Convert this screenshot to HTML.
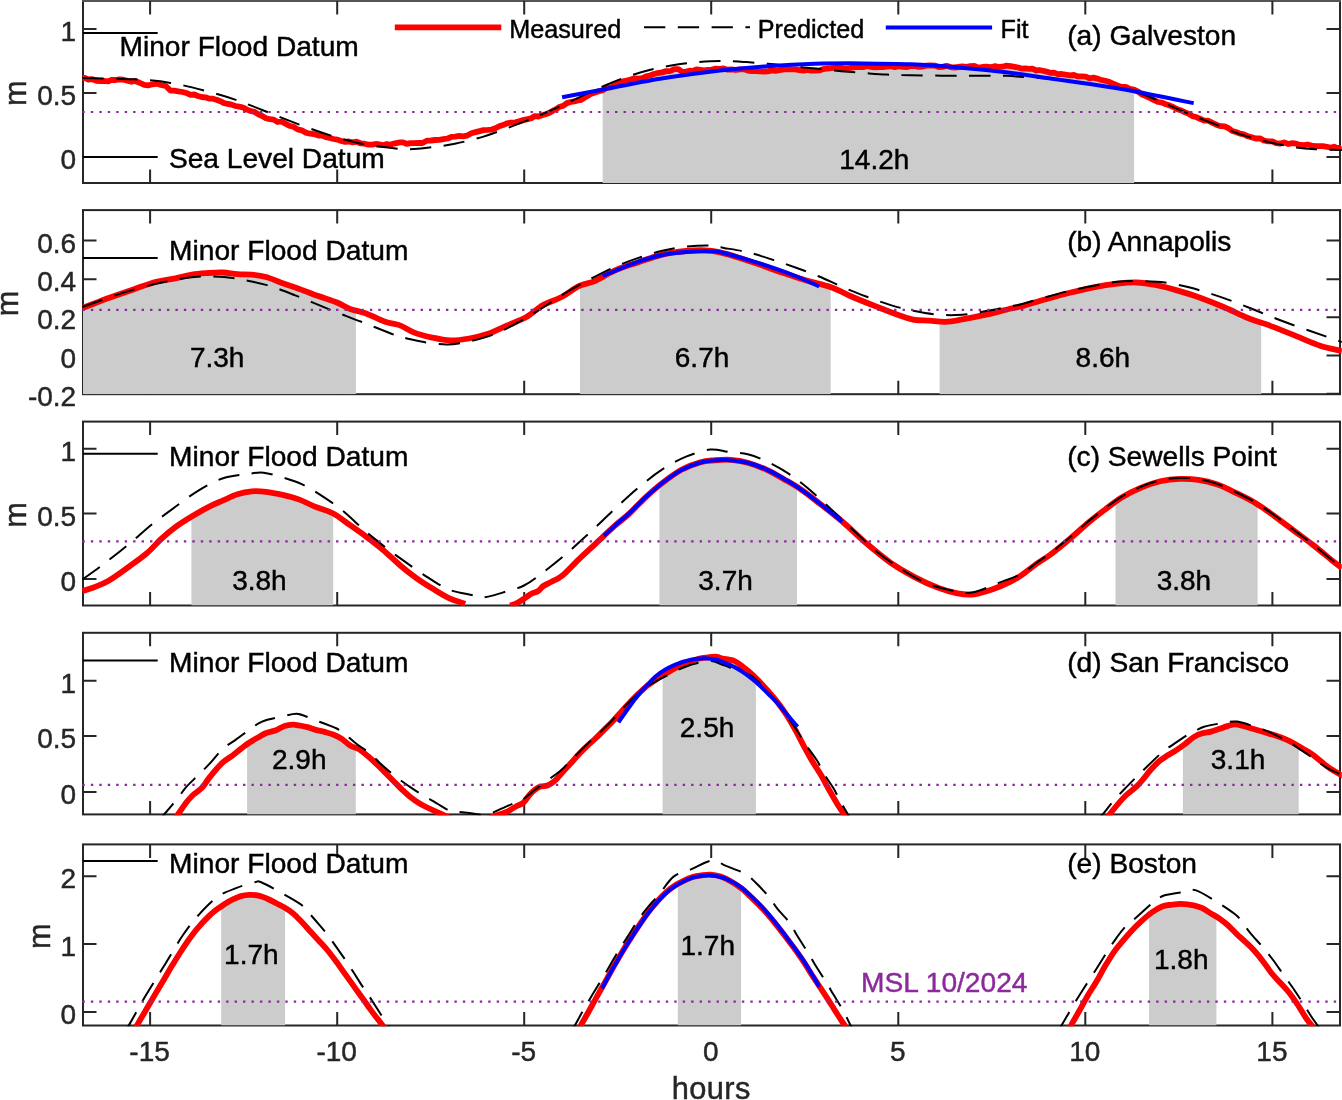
<!DOCTYPE html>
<html lang="en"><head><meta charset="utf-8"><title>Tide panels</title>
<style>html,body{margin:0;padding:0;background:#fff}svg{display:block}</style></head>
<body>
<svg width="1342" height="1100" viewBox="0 0 1342 1100" font-family="'Liberation Sans', sans-serif" stroke-width="0.45">
<rect width="1342" height="1100" fill="#fff"/>
<clipPath id="ca"><rect x="83" y="1" width="1260" height="181.9"/></clipPath>
<clipPath id="cal"><rect x="81.8" y="0.5" width="1260" height="183.2"/></clipPath>
<g stroke="#262626" stroke-width="2" fill="none" stroke-linecap="butt">
<path d="M83 0V182.9H1340V0"/>
<path d="M82 1H1341" stroke="#555"/>
<path d="M150.1 182.9v-13.5M150.1 1v13.5M337.2 182.9v-13.5M337.2 1v13.5M524.2 182.9v-13.5M524.2 1v13.5M711.2 182.9v-13.5M711.2 1v13.5M898.3 182.9v-13.5M898.3 1v13.5M1085.3 182.9v-13.5M1085.3 1v13.5M1272.4 182.9v-13.5M1272.4 1v13.5M83 28.9h13.5M1340 28.9h-13.5M83 93.1h13.5M1340 93.1h-13.5M83 156.9h13.5M1340 156.9h-13.5"/>
</g>
<g clip-path="url(#ca)">
<path d="M602.7 182.9L602.7 90.5L608.5 87.8L615 84.7L621.4 82.2L627.7 80.5L634.1 79.1L640.5 77.6L647 76.2L653.4 74.8L659.7 73.3L666.3 71.5L672.4 70L679.2 70.2L686.1 71.5L691.8 71L698.1 70L704.3 69.6L710.7 69.3L717.6 69.1L724.1 69.1L730.5 69.3L737.2 69.5L743.8 69.8L750.3 70.2L756.8 70.6L763.4 70.9L769.9 71L776.4 70.7L782.8 70.2L789.3 69.9L795.8 69.7L802.4 69.8L808.9 69.9L815.4 69.8L821.9 69.5L828.4 68.9L834.9 68.4L841.4 68L847.9 67.5L854.3 67.1L860.8 66.8L867.3 66.6L873.9 66.6L880.4 66.7L886.9 66.7L893.4 66.6L899.9 66.4L906.4 66.3L912.9 66.2L919.4 66.1L925.9 66.1L932.4 66.2L938.9 66.3L945.4 66.4L951.9 66.6L958.4 66.7L964.9 66.7L971.4 66.8L978 66.7L984.5 66.7L991.3 66.4L998 66.2L1004.1 66.1L1010.6 66.6L1016.5 67.6L1022 68.5L1027.9 69L1033.9 69.5L1040.1 70.4L1046.5 71.5L1053.2 72.6L1059.9 73.7L1066.5 74.8L1073.2 75.8L1079.6 76.7L1086.2 77.5L1092.6 78.1L1098.7 78.9L1105 80.6L1111.3 83L1117.4 85.3L1123.6 87L1129.8 88.7L1134.1 90.1L1134.1 182.9Z" fill="#cccccc"/>
</g>
<g clip-path="url(#cal)" fill="none" stroke-linejoin="round">
<path d="M82.4 77.8L84.8 77.9L88.3 79.5L92.3 79.2L96.6 80.8L100.5 81.1L103.8 80.9L108.2 81.4L111.6 79.8L115.8 80L119.3 79.4L123.3 79.7L127.5 80.7L131.5 81.8L134.8 81L139.8 82.8L144.4 84.8L148.2 85.4L152.7 84.3L157.2 83.7L161 85L165.8 86L170.6 90.7L174.2 90.7L178.2 91.3L182.6 92L187.3 93.3L190.6 94.9L194.2 94.5L197.9 96L201.6 97L205.3 97.3L208.8 98.5L212.8 98.7L216.6 99.8L220.3 101.2L224 103.1L227.8 103.8L231.6 104.6L235.4 106L239.3 106.7L243.1 107.5L246.9 109.6L250.7 111L254.5 111.9L258.4 114.3L262.2 116L266 118.2L269.8 119.2L273.7 119.6L277.6 122L281.3 121.5L285 123.4L289.3 125.8L293.5 126.8L297.6 129.4L301.7 130.3L305.8 132.6L309.9 133.7L314.1 134.1L318.4 135.6L322.1 135.5L325.9 137.2L329.7 138L333.6 139L337.5 139.6L341.3 141L345.1 141.8L349 141.5L352.8 142.3L356.6 141.7L360.5 143.3L364.5 143.7L368.4 144.7L372.2 144.7L375.7 144L379.7 144.5L383.4 145.2L386.8 144.1L390 144.8L395 143.3L400 142.3L403.2 142.3L406.7 143.9L410.5 143.1L414.3 143.2L418.3 143L422.5 143L426.8 140.7L431 140.5L435.1 140L439.2 139.9L443.4 139.1L447.7 138.5L451.4 136.8L455.3 136.6L459.2 135.9L463.1 136.3L466.8 135.7L471.3 133.2L475.6 132.1L479.7 131.1L483.5 130.1L487.8 129.9L491.6 129.6L495.4 128.3L499.2 126.3L503 125.1L507.3 123.3L511.2 122.6L515.5 122.4L519.9 121.1L524 119.9L527.7 119.1L531.3 118.2L534.8 116.1L538.3 116.5L541.9 115.2L545.5 114.3L549 113L552.6 110.9L556.2 109.2L559.8 106.7L563.3 105.8L566.9 103.1L570.6 102L574.4 101.4L578 100.5L581.2 99.8L586.1 96.7L590.7 93.9L594.3 92.8L598.3 91.4L602.7 90.3L606.5 87.9L610.6 87.4L615 84.9L619.4 82.3L623.1 81.3L626.8 80.5L630.7 79.6L634.6 78.3L638.4 78.7L642.3 78.1L646.1 76.3L650 75.5L653.8 74L657.5 73.2L662 72.4L666.3 71.1L670.4 71L674.2 69.2L678.4 69.2L682.1 71.8L686.1 71.6L689.4 70.7L692.8 70.9L696.4 69.4L700.4 69.9L703.9 70.4L707.7 70L711.6 69.6L715.7 68.7L720 68.9L723.7 68.5L727.6 69.7L731.6 69.4L735.7 70L739.8 69.3L743.8 69.3L747.8 70.6L751.8 71.1L755.8 71.2L759.7 71.3L763.7 71.5L767.7 71.4L771.7 70.4L775.6 70.8L779.6 70.2L783.6 69.4L787.5 69.1L791.5 69.4L795.5 69.3L799.5 70.1L803.5 70.7L807.4 69.8L811.4 70.7L815.4 70.7L819.4 70.4L823.3 69.1L827.3 68.5L831.3 68.2L835.2 67.8L839.2 67.6L843.2 68.1L847.1 68.3L851.1 67.9L855.1 67L859 67.1L863 67.2L867 65.9L871 66.9L875 67.4L878.9 67.2L882.9 67.2L886.9 66.7L890.9 66.1L894.8 67.1L898.8 66.1L902.8 66.9L906.7 67.1L910.7 66L914.7 66L918.7 66.9L922.7 66.5L926.6 65.6L930.6 65.5L934.6 65.6L938.6 67L942.5 66.9L946.5 65.8L950.5 67.1L954.4 67.5L958.4 67L962.4 66.5L966.4 66.8L970.4 66.1L974.3 65.9L978.3 67.6L982.3 67L986.4 66.7L990.5 67.2L994.6 66.2L998.7 66.8L1002.5 66.7L1006 65.7L1010.6 66.2L1014.6 66.9L1018.3 67.5L1022 68.7L1025.5 68.4L1028.8 68.9L1032.3 68.7L1036.3 70.5L1039.4 70L1042.8 70.8L1046.5 71.6L1050.2 72.8L1054 72.6L1057.8 74.2L1061.7 74L1065.7 74.7L1069.8 75.3L1073.9 75L1077.9 76.4L1081.6 76.4L1085.8 76.6L1089.7 78.4L1093.5 77.6L1097.1 78.6L1100.7 79.7L1105 80.7L1109.2 81.8L1113.3 83.8L1117.4 85.4L1121.6 87L1125.7 86.8L1129.8 88.8L1134 89.6L1138.1 91.6L1142.2 94.6L1146.4 96.3L1150.8 98.5L1154.5 100.4L1158.2 102L1162.1 102.6L1166 104.3L1169.8 105.6L1173.6 107.2L1177.4 109.2L1181.3 110.5L1185.1 112.4L1188.9 113.9L1192.8 116.2L1196.7 117.3L1200.5 119L1204.3 120.6L1208 120.7L1212.5 122.8L1216.8 124.9L1220.9 126.2L1224.7 126.3L1228.8 128.4L1232.3 131L1236.6 132.2L1240 133.6L1243.8 134.3L1247.9 136.3L1251.9 137.4L1255.7 138.5L1259.9 138.3L1263.8 140.5L1267.8 141.4L1272.4 141.4L1276 143.1L1280 143.6L1284.2 142.5L1288.4 144L1292.4 143.2L1296.2 143.7L1300.3 145L1304.1 145.2L1307.7 144.5L1311.4 145.5L1315.3 146.1L1318.9 146.2L1322.9 146.2L1326.9 146.8L1330.7 147.8L1334 146.7L1336.7 147.9L1340.7 147.9L1342 147.1" stroke="#ff0000" stroke-width="5.8"/>
<path d="M82.4 78.1C91.1 78.3 120.1 78.5 134.8 79.3C149.5 80.1 159.1 81 170.6 82.9C182.1 84.8 193.3 87.7 204 90.5C214.7 93.3 224.7 96.1 235 99.6C245.3 103.1 255.3 107.3 266 111.5C276.7 115.7 288.7 120.6 299.4 124.6C310.1 128.6 320.1 132.2 330.4 135.4C340.7 138.6 351.5 141.6 361.4 143.7C371.3 145.8 382 146.9 390 147.8C398 148.7 402.7 149.3 409.5 149.2C416.3 149.1 423.4 148.2 431 147.3C438.6 146.4 446.1 145.5 454.8 143.7C463.6 141.9 473.6 139.6 483.5 136.6C493.4 133.6 504.5 129.2 514.4 125.4C524.3 121.6 533.5 118 543 113.9C552.5 109.8 561.8 105.4 571.7 100.8C581.7 96.2 593.6 90.5 602.7 86.5C611.8 82.5 618.5 79.8 626.5 77C634.5 74.2 642.4 71.8 650.4 69.8C658.4 67.8 666.3 66.3 674.2 65C682.1 63.7 690.4 62.9 698 62.2C705.6 61.5 712.4 61 720 61C727.6 61 735.8 61.4 743.8 61.9C751.8 62.4 759.8 63.1 767.7 63.8C775.7 64.5 783.5 65.4 791.5 66.2C799.5 67 807.4 67.8 815.4 68.6C823.4 69.4 831.3 70.3 839.2 71C847.1 71.7 855 72.3 863 72.9C871 73.5 878.9 74.2 886.9 74.6C894.9 75 898.8 75.1 910.7 75.3C922.6 75.5 942.5 75.7 958.4 75.8C974.3 75.9 995.3 75.6 1006 75.8C1016.7 76 1014.2 76.4 1022.8 77C1031.4 77.6 1048 78.4 1057.8 79.4C1067.6 80.4 1074.4 81.7 1081.6 82.8C1088.8 83.9 1094.7 84.8 1100.7 85.8C1106.7 86.8 1111.9 87.5 1117.4 88.5C1123 89.5 1128.4 90.1 1134 91.6C1139.6 93.1 1144.8 95.2 1150.8 97.5C1156.8 99.8 1163.4 102.9 1169.8 105.6C1176.2 108.3 1182.5 111.2 1188.9 113.9C1195.3 116.6 1202 119.2 1208 121.5C1214 123.8 1219.9 126.1 1224.7 128C1229.5 129.9 1231.4 131.2 1236.6 133C1241.8 134.8 1249.7 137.1 1255.7 138.8C1261.7 140.5 1265.7 141.6 1272.4 143C1279.2 144.4 1289.1 146.5 1296.2 147.5C1303.3 148.5 1307.7 148.8 1315.3 149.2C1322.9 149.6 1337.5 149.9 1342 150" stroke="#000" stroke-width="2" stroke-dasharray="21.3 12.5"/>
<path d="M562.1 97.2C568.9 95.9 586.4 92.7 602.7 89.6C619 86.5 640.5 82 660 78.8C679.5 75.6 702 72.6 720 70.5C738 68.4 751.8 67.3 767.7 66.2C783.6 65.1 799.5 64.3 815.4 63.8C831.3 63.3 847.1 63.3 863 63.4C878.9 63.5 894.8 63.6 910.7 64.3C926.6 65 942.5 66.1 958.4 67.4C974.3 68.7 992.4 70.6 1006 72.2C1019.6 73.8 1026 75 1040 77C1054 79 1074.3 81.6 1090 84C1105.7 86.4 1116.7 88.1 1134 91.3C1151.3 94.5 1183.8 101.2 1193.7 103.2" stroke="#0000ff" stroke-width="4"/>
<path d="M82.4 112H1340" stroke="#8b2a9b" stroke-width="2.2" stroke-dasharray="2.4 6.055"/>
</g>
<path d="M83 32.9H157.7" stroke="#000" stroke-width="2"/>
<text x="119.5" y="55.5" font-size="28.15" fill="#000" stroke="#000">Minor Flood Datum</text>
<path d="M83 157.1H157.7" stroke="#000" stroke-width="2"/>
<text x="168.9" y="168.3" font-size="28.15" fill="#000" stroke="#000">Sea Level Datum</text>
<text x="1067.2" y="45" font-size="28.15" fill="#000" stroke="#000">(a) Galveston</text>
<text x="839.3" y="168.8" font-size="28.0" fill="#000" stroke="#000">14.2h</text>
<text x="76.2" y="40.9" text-anchor="end" font-size="28.0" fill="#262626" stroke="#262626">1</text>
<text x="76.2" y="105.1" text-anchor="end" font-size="28.0" fill="#262626" stroke="#262626">0.5</text>
<text x="76.2" y="168.9" text-anchor="end" font-size="28.0" fill="#262626" stroke="#262626">0</text>
<text transform="translate(25.6 93.2) rotate(-90)" text-anchor="middle" font-size="30.8" fill="#262626" stroke="#262626">m</text>
<clipPath id="cb"><rect x="83" y="210.1" width="1260" height="184.1"/></clipPath>
<clipPath id="cbl"><rect x="81.8" y="209.6" width="1260" height="185.4"/></clipPath>
<g stroke="#262626" stroke-width="2" fill="none" stroke-linecap="butt">
<rect x="83" y="210.1" width="1257" height="184.1"/>
<path d="M150.1 394.2v-13.5M150.1 210.1v13.5M337.2 394.2v-13.5M337.2 210.1v13.5M524.2 394.2v-13.5M524.2 210.1v13.5M711.2 394.2v-13.5M711.2 210.1v13.5M898.3 394.2v-13.5M898.3 210.1v13.5M1085.3 394.2v-13.5M1085.3 210.1v13.5M1272.4 394.2v-13.5M1272.4 210.1v13.5M83 240.6h13.5M1340 240.6h-13.5M83 279.3h13.5M1340 279.3h-13.5M83 317.3h13.5M1340 317.3h-13.5M83 355.5h13.5M1340 355.5h-13.5M83 393.7h13.5M1340 393.7h-13.5"/>
</g>
<g clip-path="url(#cb)">
<path d="M82 394.2L82 308L85.4 306.8L92.1 304.3L99.1 301.6L105.3 299.4L111.5 297.1L117.8 294.9L123.9 292.7L130.4 290.4L136.9 288.2L143.3 285.9L149.9 283.7L156.3 281.8L162.9 280.4L169.3 279.4L175.4 278.4L181.8 276.9L188 275.4L194.2 274.3L200.6 273.6L206.8 273.1L213.1 272.7L219.1 272.5L225.1 272.6L231.3 273.4L237.4 274.1L243.5 274.3L249.7 274.4L255.7 275L261.7 276L268 277.6L274.2 279.9L280.6 282.4L286.8 284.6L293 286.7L299.4 288.9L305.6 291.2L312 293.7L318.4 296.1L325 298.4L331.7 300.6L337.5 302.8L344.6 306.5L351.2 309.3L355.9 310.6L355.9 394.2Z" fill="#cccccc"/>
<path d="M580 394.2L580 285.6L585 283.9L591.2 282.3L597.5 279.9L603.6 276.5L610 272.8L616.6 269.8L622.9 267.4L629.5 265.1L636.2 262.9L642.7 260.7L649.3 258.5L655.8 256.4L662.3 254.6L668.9 253.3L675.6 252.2L682.1 251.4L688.5 250.8L695.2 250.3L701.4 250.2L707.8 250.4L714.3 251.2L721 252.6L727.1 254.2L733.6 256.1L740.1 258.1L746.4 260.1L752.9 262.3L759.6 264.6L765.9 266.8L772.5 269.1L779.1 271.5L785.7 273.7L792.2 275.9L798.6 278.1L805.1 280.1L811.6 282L818.1 283.6L824.6 285.3L830.7 287.2L830.7 394.2Z" fill="#cccccc"/>
<path d="M939.6 394.2L939.6 321.6L945.6 321.8L951.6 321.3L957.6 320.2L964.2 319.1L970.4 317.9L977.1 316.6L983.9 315.2L990.6 313.6L997.6 311.9L1004.3 310.1L1010 308.7L1016 307.6L1022 306.3L1027.6 304.7L1034.3 302.7L1041.3 300.5L1048 298.6L1054.5 296.7L1061 295L1067.5 293.2L1074 291.6L1080.5 290.1L1087 288.6L1093.5 287.3L1100.1 286.1L1106.9 285.1L1113.4 284.2L1119.7 283.4L1126.2 282.8L1132.3 282.5L1138.5 282.6L1144.8 283.1L1151.1 284.1L1157.5 285.3L1163.8 286.8L1170.3 288.5L1177 290.4L1183.3 292.3L1189.8 294.3L1196.4 296.5L1203 298.8L1209.5 301.3L1216 303.9L1222.5 306.6L1229 309.4L1235.5 312.5L1242 315.5L1248.5 318.3L1255 320.7L1261.2 322.8L1261.2 394.2Z" fill="#cccccc"/>
</g>
<g clip-path="url(#cbl)" fill="none" stroke-linejoin="round">
<path d="M82.4 308C85.2 306.9 93.5 303.7 99.1 301.6C104.7 299.5 109.8 297.7 115.8 295.6C121.8 293.5 128.1 291.2 134.8 288.9C141.6 286.6 149.5 283.6 156.3 281.8C163.1 280.1 169.4 279.6 175.4 278.4C181.4 277.2 186.5 275.5 192.1 274.6C197.7 273.7 203.6 273.4 208.8 273C214 272.6 218.3 272.3 223.1 272.5C227.9 272.7 232.6 273.8 237.4 274.1C242.2 274.5 246.9 274.1 251.7 274.6C256.5 275.1 260.8 275.6 266 277C271.2 278.4 277.1 281.2 282.7 283.2C288.3 285.2 293.4 286.8 299.4 288.9C305.3 291 312 293.8 318.4 296.1C324.8 298.4 332.3 300.7 337.5 302.8C342.7 304.9 344.6 306.9 349.4 308.7C354.2 310.5 360.1 311.3 366.1 313.5C372.1 315.7 379.6 319.8 385.2 321.8C390.8 323.8 395.1 323.6 400 325.4C404.9 327.2 409.1 330.6 414.3 332.6C419.5 334.6 425 336 431 337.3C437 338.6 443.8 340.2 450.1 340.4C456.5 340.6 462.8 339.6 469.1 338.5C475.5 337.4 481.8 336 488.2 333.8C494.6 331.6 500.9 328.2 507.3 325.4C513.7 322.6 520.4 320.5 526.4 317.1C532.4 313.7 537.1 308.5 543.1 305.1C549.1 301.7 556.2 300 562.1 296.8C568 293.6 573.2 288.8 578.8 286.1C584.4 283.4 589.5 283.4 595.5 280.8C601.5 278.2 607.5 273.7 614.6 270.6C621.8 267.5 630.5 264.9 638.4 262.2C646.3 259.5 654.3 256.5 662.3 254.6C670.2 252.7 679 251.7 686.1 251C693.2 250.3 699.7 250.1 705.2 250.3C710.7 250.5 713.6 251 719.1 252.2C724.6 253.4 731.4 255.4 738.1 257.5C744.9 259.6 752 262 759.6 264.6C767.2 267.2 775.5 270.3 783.5 273C791.5 275.7 799.4 278.4 807.3 280.8C815.2 283.2 823.1 284.4 831.1 287.3C839.1 290.2 847 294.6 855 298C863 301.4 870.8 304.4 878.8 307.5C886.8 310.6 896.7 314.5 902.7 316.6C908.7 318.7 910.2 319.2 914.6 319.9C919 320.6 923.7 320.3 928.9 320.6C934.1 320.9 940 322 945.6 321.8C951.2 321.6 955.5 320.6 962.3 319.4C969 318.2 978.1 316.5 986.1 314.7C994.1 312.9 1004 310.1 1010 308.7C1016 307.3 1016 307.9 1022 306.3C1028 304.7 1037.8 301.5 1045.8 299.2C1053.8 296.9 1061.8 294.7 1069.7 292.7C1077.7 290.7 1085.5 288.8 1093.5 287.3C1101.5 285.8 1110.2 284.5 1117.4 283.7C1124.6 282.9 1130.1 282.3 1136.4 282.5C1142.8 282.7 1148.7 283.6 1155.5 284.9C1162.3 286.2 1169.5 288.2 1177 290.4C1184.5 292.6 1192.8 295.1 1200.8 298C1208.8 300.9 1216.8 304.1 1224.7 307.5C1232.7 310.9 1240.5 315.1 1248.5 318.3C1256.5 321.5 1264.5 323.6 1272.4 326.6C1280.4 329.6 1288.3 332.9 1296.2 336.1C1304.1 339.3 1312.4 343.2 1320 345.7C1327.6 348.2 1338.3 350.1 1342 351" stroke="#ff0000" stroke-width="5.8"/>
<path d="M82.4 307C88 305 104.3 298.8 115.8 295.1C127.3 291.4 139.6 287.8 151.5 284.9C163.4 282 177.4 279.1 187.3 277.7C197.2 276.3 203.2 276.4 211.1 276.5C219 276.6 225.8 277 235 278.4C244.2 279.8 256.1 282.1 266 284.9C275.9 287.7 283.9 290.9 294.6 295.1C305.3 299.3 319.3 305.4 330.4 309.9C341.5 314.3 350.7 317.6 361.4 321.8C372.1 326 387.1 332.2 394.7 335C402.3 337.8 402.1 337.3 407 338.5C411.9 339.7 417 341.1 423.8 342.1C430.6 343.1 439.8 344.7 447.7 344.5C455.6 344.3 463.6 342.7 471.5 340.9C479.4 339.1 487.4 337 495.4 333.8C503.3 330.6 511.3 326.2 519.2 321.8C527.2 317.4 535.2 312.5 543.1 307.5C551 302.5 559 296.8 566.9 292C574.8 287.2 582.8 283.1 590.7 278.9C598.7 274.7 606.7 270.5 614.6 267C622.5 263.5 630.5 260.6 638.4 257.9C646.3 255.2 654.3 252.7 662.3 250.8C670.2 248.9 678.1 247.6 686.1 246.7C694.1 245.8 703.7 245.3 710 245.5C716.3 245.7 717.5 246.8 723.8 247.9C730.1 249 739.8 250.3 747.7 252.2C755.7 254.1 763.5 256.8 771.5 259.4C779.5 261.9 787.4 264.6 795.4 267.5C803.4 270.4 811.2 273.2 819.2 276.5C827.2 279.8 835.2 283.9 843.1 287.3C851 290.7 859 293.8 866.9 296.8C874.8 299.8 882.8 302.7 890.7 305.1C898.7 307.5 906.7 309.5 914.6 311.1C922.5 312.7 930.5 314.1 938.4 314.7C946.3 315.3 954.3 315.3 962.3 314.7C970.2 314.1 978.1 312.5 986.1 311.1C994.1 309.7 1004 307.5 1010 306.3C1016 305.1 1012 306.6 1022 304C1032 301.4 1053.8 294.5 1069.7 290.8C1085.6 287.1 1105.5 283.4 1117.4 281.8C1129.3 280.2 1133.2 281.2 1141.2 281.3C1149.2 281.4 1157.1 281.5 1165.1 282.5C1173 283.5 1181 285.3 1188.9 287.3C1196.9 289.3 1204.8 291.8 1212.8 294.4C1220.8 297 1228.7 299.8 1236.6 302.8C1244.5 305.8 1252.5 309.1 1260.4 312.3C1268.4 315.5 1276.3 318.8 1284.3 321.8C1292.2 324.8 1300.9 327.7 1308.1 330.2C1315.2 332.7 1321.5 334.9 1327.2 336.9C1332.9 338.9 1339.5 341.1 1342 342" stroke="#000" stroke-width="2" stroke-dasharray="21.3 12.5"/>
<path d="M602.7 276C608.7 273.6 628.5 265.2 638.4 261.7C648.3 258.2 654.3 256.6 662.3 255C670.2 253.4 678 252.6 686.1 252C694.2 251.4 704.7 251.1 711 251.3C717.3 251.5 715.7 251 723.8 253C731.9 255 747.7 259.6 759.6 263.4C771.5 267.2 785.5 272.1 795.4 276C805.3 279.9 815.2 284.8 819.2 286.5" stroke="#0000ff" stroke-width="4"/>
<path d="M82.4 309.9H1340" stroke="#8b2a9b" stroke-width="2.2" stroke-dasharray="2.4 6.055"/>
</g>
<path d="M83 257.9H157.7" stroke="#000" stroke-width="2"/>
<text x="169.1" y="260.2" font-size="28.15" fill="#000" stroke="#000">Minor Flood Datum</text>
<text x="1067.2" y="250.7" font-size="28.15" fill="#000" stroke="#000">(b) Annapolis</text>
<text x="189.9" y="367.1" font-size="28.0" fill="#000" stroke="#000">7.3h</text>
<text x="674.8" y="367.1" font-size="28.0" fill="#000" stroke="#000">6.7h</text>
<text x="1075.6" y="367.1" font-size="28.0" fill="#000" stroke="#000">8.6h</text>
<text x="76.2" y="252.6" text-anchor="end" font-size="28.0" fill="#262626" stroke="#262626">0.6</text>
<text x="76.2" y="291.3" text-anchor="end" font-size="28.0" fill="#262626" stroke="#262626">0.4</text>
<text x="76.2" y="329.3" text-anchor="end" font-size="28.0" fill="#262626" stroke="#262626">0.2</text>
<text x="76.2" y="367.5" text-anchor="end" font-size="28.0" fill="#262626" stroke="#262626">0</text>
<text x="76.2" y="405.7" text-anchor="end" font-size="28.0" fill="#262626" stroke="#262626">-0.2</text>
<text transform="translate(17.8 303.3) rotate(-90)" text-anchor="middle" font-size="30.8" fill="#262626" stroke="#262626">m</text>
<clipPath id="cc"><rect x="83" y="421.6" width="1260" height="183.9"/></clipPath>
<clipPath id="ccl"><rect x="81.8" y="421.1" width="1260" height="185.2"/></clipPath>
<g stroke="#262626" stroke-width="2" fill="none" stroke-linecap="butt">
<rect x="83" y="421.6" width="1257" height="183.9"/>
<path d="M150.1 605.5v-13.5M150.1 421.6v13.5M337.2 605.5v-13.5M337.2 421.6v13.5M524.2 605.5v-13.5M524.2 421.6v13.5M711.2 605.5v-13.5M711.2 421.6v13.5M898.3 605.5v-13.5M898.3 421.6v13.5M1085.3 605.5v-13.5M1085.3 421.6v13.5M1272.4 605.5v-13.5M1272.4 421.6v13.5M83 448.7h13.5M1340 448.7h-13.5M83 513.6h13.5M1340 513.6h-13.5M83 579h13.5M1340 579h-13.5"/>
</g>
<g clip-path="url(#cc)">
<path d="M191.4 605.5L191.4 516.7L196.3 513.8L202.7 510.1L208.8 506.8L215.1 503.8L221.1 501.3L227.2 498.5L233.3 495.7L239.4 493.6L245.6 492.1L251.7 491.3L257.7 491.1L263.8 491.6L270 492.4L276.3 493.5L282.7 494.9L289.1 496.5L295.4 498.3L301.5 500.4L307.4 503.2L313.7 506.1L319.8 508.3L326.4 510.5L332.7 513.2L333.2 513.5L333.2 605.5Z" fill="#cccccc"/>
<path d="M659.4 605.5L659.4 485.3L664.3 481.5L670.6 476.8L677.1 472.3L683.6 468.7L690.2 465.7L696.6 463.4L703.1 461.5L709.7 460.6L716.2 460.1L722.5 459.8L728.9 459.7L735.1 460.2L741.3 461.2L747.7 462.7L754 464.7L760.5 467.1L766.8 469.8L773.2 473L779.4 476.5L785.6 480.1L791.6 483.6L797 486.9L797 605.5Z" fill="#cccccc"/>
<path d="M1115.5 605.5L1115.5 501.7L1119.9 498.7L1126.2 495L1132.6 491.6L1139.1 488.6L1145.4 486L1151.8 483.7L1158.2 481.8L1164.5 480.4L1170.9 479.5L1177.3 479L1183.6 478.8L1190 479L1196.3 479.6L1202.6 480.6L1209 482L1215.4 483.9L1221.7 486.2L1228.1 489.1L1234.5 492.2L1240.8 495.3L1247.2 498.5L1253.6 501.9L1257.6 504.4L1257.6 605.5Z" fill="#cccccc"/>
</g>
<g clip-path="url(#ccl)" fill="none" stroke-linejoin="round">
<path d="M82.4 591C84.4 590.4 89.9 588.9 94.3 587.2C98.7 585.5 103 584 108.6 580.7C114.2 577.4 121.3 572.2 127.7 567.6C134.1 563 141.2 558.1 146.8 553.3C152.4 548.5 156.3 543.4 161.1 539C165.9 534.6 170.2 530.9 175.4 527.1C180.6 523.3 186.5 519.7 192.1 516.3C197.7 512.9 203.6 509.4 208.8 506.8C214 504.2 218.3 502.5 223.1 500.4C227.9 498.3 232.6 495.7 237.4 494.2C242.2 492.7 246.9 491.7 251.7 491.3C256.5 490.9 260.8 491.2 266 491.8C271.2 492.4 277.1 493.6 282.7 494.9C288.3 496.2 294.2 497.7 299.4 499.6C304.6 501.5 308.1 503.8 313.7 506.1C319.2 508.4 326.8 510.1 332.7 513.2C338.6 516.3 343.8 520.8 349.4 524.7C355 528.6 360.5 532.4 366.1 536.6C371.7 540.8 377.2 544.9 382.8 549.7C388.4 554.5 394.4 560.4 400 565.2C405.6 570 411.1 574.3 416.7 578.3C422.3 582.3 427.8 585.7 433.4 589.1C439 592.5 444.8 596.2 450.1 598.6C455.4 601 462.7 602.9 465.2 603.8" stroke="#ff0000" stroke-width="5.8"/>
<path d="M510.2 605.6C511.3 605.2 514.6 604.2 517 603C519.4 601.8 522 600 524.4 598.5C526.8 597 529 595 531.3 593.8C533.6 592.5 536.2 592.3 538.2 591C540.2 589.7 541.1 587.6 543.4 586C545.7 584.4 548.9 583.2 552 581.5C555.1 579.8 557.6 579.5 562.1 575.8C566.6 572.1 573.2 564.6 578.8 559.3C584.4 554 589.5 549.4 595.5 543.8C601.5 538.2 609 530.9 614.6 525.9C620.2 520.9 623.7 518.8 628.9 514C634.1 509.2 640 502.5 645.6 497.3C651.2 492.1 656.3 487.6 662.3 483C668.3 478.4 675 473.3 681.4 469.8C687.8 466.3 695 463.8 700.5 462.2C706 460.6 709.2 460.7 714.3 460.3C719.4 459.9 725.4 459.4 731 459.8C736.6 460.2 741.7 461 747.7 462.7C753.7 464.4 760.8 467.1 766.8 469.8C772.8 472.5 778 475.7 783.5 478.9C789 482.1 794.1 484.8 800.1 488.9C806.1 492.9 812 497.6 819.2 503.2C826.4 508.8 835.2 515.5 843.1 522.3C851 529.1 859 537 866.9 543.8C874.8 550.5 882.8 557.2 890.7 562.8C898.7 568.3 906.7 572.9 914.6 577.1C922.5 581.3 931.2 585.2 938.4 587.9C945.5 590.6 951.5 592.3 957.5 593.4C963.5 594.5 968.2 595 974.2 594.3C980.2 593.6 987.3 591.2 993.3 589.1C999.3 587 1005.2 584.3 1010 581.9C1014.8 579.5 1017.6 577.8 1022 574.8C1026.4 571.8 1031.5 567.4 1036.3 564C1041.1 560.6 1045 558.7 1050.6 554.5C1056.2 550.3 1063.3 544.4 1069.7 539C1076.1 533.6 1082.8 527.3 1088.8 522.3C1094.8 517.3 1100 513.4 1105.5 509.2C1111 505 1116.1 500.9 1122.1 497.3C1128 493.7 1134.8 490.4 1141.2 487.7C1147.6 485 1153.9 482.8 1160.3 481.3C1166.7 479.8 1173.1 479.1 1179.4 478.9C1185.8 478.7 1192.1 478.9 1198.4 479.9C1204.8 480.8 1211.1 482.4 1217.5 484.6C1223.9 486.8 1230.2 490.1 1236.6 493.2C1243 496.3 1249.3 499.4 1255.7 503.2C1262.1 507 1268.4 511.7 1274.7 516.3C1281 520.9 1287.4 525.8 1293.8 530.6C1300.2 535.4 1306.5 539.9 1312.9 544.9C1319.3 549.9 1327.2 556.5 1332 560.4C1336.8 564.2 1340.3 566.7 1342 568" stroke="#ff0000" stroke-width="5.8"/>
<path d="M82.4 579.5C86 576.9 96.2 569.8 103.8 564C111.3 558.2 119.8 551.5 127.7 545C135.7 538.5 143.6 531.1 151.5 524.7C159.4 518.3 167.5 512.6 175.4 506.8C183.3 501 191.2 494.9 199.2 490.1C207.1 485.3 215.1 480.9 223.1 478.2C231.1 475.5 240.2 475 246.9 474.1C253.7 473.2 257.6 472.1 263.6 472.7C269.6 473.3 276.4 475.6 282.7 477.5C289 479.4 295.8 481.4 301.7 484.1C307.6 486.8 311.6 489.3 318.4 493.7C325.2 498.1 334.4 504 342.3 510.4C350.2 516.8 358.2 525 366.1 531.8C374.1 538.5 384.4 546.5 390 550.9C395.6 555.3 394.4 554.1 400 558.1C405.6 562.1 415.9 569.6 423.8 574.8C431.8 580 439.8 585.7 447.7 589.1C455.6 592.5 465.5 593.6 471.5 595C477.5 596.4 478.3 597.8 483.5 597.4C488.7 597 495.8 594.6 502.5 592.6C509.2 590.6 517.2 588.9 524 585.5C530.8 582.1 536 577.8 543.1 572.4C550.2 567 559 560.1 566.9 553.3C574.8 546.5 582.8 539.1 590.7 531.8C598.7 524.4 606.7 516.5 614.6 509.2C622.5 501.9 630.5 494.3 638.4 487.7C646.3 481.1 654.3 474.6 662.3 469.4C670.2 464.2 678.1 460 686.1 456.7C694.1 453.4 702.9 450.4 710 449.6C717.1 448.8 722.3 451.2 728.6 452C734.9 452.8 741.3 452.7 747.7 454.3C754.1 455.9 760 458.3 766.8 461.5C773.5 464.7 781.5 469 788.2 473.4C795 477.8 800.1 481.7 807.3 487.7C814.4 493.7 823.1 501.9 831.1 509.2C839.1 516.5 847 524.4 855 531.8C863 539.1 870.8 546.9 878.8 553.3C886.8 559.7 894.8 565 902.7 570C910.7 575 918.5 579.7 926.5 583.1C934.5 586.5 942.9 588.6 950.4 590.2C957.9 591.8 963.9 593.8 971.8 592.6C979.7 591.4 989.6 586.3 998 583.1C1006.4 579.9 1015.6 576.9 1022 573.5C1028.4 570.1 1031.5 566.4 1036.3 563C1041.1 559.6 1045 557.2 1050.6 553C1056.2 548.8 1063.3 542.8 1069.7 537.5C1076.1 532.2 1082.8 525.9 1088.8 521C1094.8 516.1 1100 512.1 1105.5 508C1111 503.9 1116.1 499.9 1122.1 496.3C1128 492.8 1134.8 489.4 1141.2 486.7C1147.6 484 1153.9 481.8 1160.3 480.3C1166.7 478.9 1173.1 478.2 1179.4 478C1185.8 477.8 1192.1 478 1198.4 479C1204.8 480 1211.1 481.8 1217.5 484C1223.9 486.2 1230.2 489.4 1236.6 492.5C1243 495.6 1249.3 498.7 1255.7 502.5C1262.1 506.3 1268.4 510.9 1274.7 515.5C1281 520.1 1287.4 525.2 1293.8 530C1300.2 534.8 1306.5 539.5 1312.9 544.5C1319.3 549.5 1327.2 556.1 1332 560C1336.8 563.9 1340.3 566.7 1342 568" stroke="#000" stroke-width="2" stroke-dasharray="21.3 12.5"/>
<path d="M603.9 535.8C605.7 534.1 610.4 529.6 614.6 525.9C618.8 522.2 623.7 518.3 628.9 513.5C634.1 508.7 640 502.4 645.6 497.3C651.2 492.2 656.3 487.6 662.3 483C668.3 478.4 675 473.4 681.4 470C687.8 466.6 695 464.1 700.5 462.5C706 460.9 710 460.8 714.3 460.4C718.5 460 720.4 459.6 726 460C731.6 460.4 740.9 461.1 747.7 462.7C754.5 464.3 760.8 467 766.8 469.6C772.8 472.2 778 475.3 783.5 478.5C789 481.7 794.1 484.7 800.1 488.8C806.1 492.9 812.2 497.5 819.2 503C826.2 508.5 838.4 518.5 842.3 521.6" stroke="#0000ff" stroke-width="4"/>
<path d="M82.4 541.4H1340" stroke="#8b2a9b" stroke-width="2.2" stroke-dasharray="2.4 6.055"/>
</g>
<path d="M83 453.8H157.7" stroke="#000" stroke-width="2"/>
<text x="169.1" y="465.5" font-size="28.15" fill="#000" stroke="#000">Minor Flood Datum</text>
<text x="1067.2" y="465.9" font-size="28.15" fill="#000" stroke="#000">(c) Sewells Point</text>
<text x="232.2" y="590.2" font-size="28.0" fill="#000" stroke="#000">3.8h</text>
<text x="698.3" y="590.2" font-size="28.0" fill="#000" stroke="#000">3.7h</text>
<text x="1156.7" y="590.2" font-size="28.0" fill="#000" stroke="#000">3.8h</text>
<text x="76.2" y="460.7" text-anchor="end" font-size="28.0" fill="#262626" stroke="#262626">1</text>
<text x="76.2" y="525.6" text-anchor="end" font-size="28.0" fill="#262626" stroke="#262626">0.5</text>
<text x="76.2" y="591" text-anchor="end" font-size="28.0" fill="#262626" stroke="#262626">0</text>
<text transform="translate(25.5 514.8) rotate(-90)" text-anchor="middle" font-size="30.8" fill="#262626" stroke="#262626">m</text>
<clipPath id="cd"><rect x="83" y="632.8" width="1260" height="181.6"/></clipPath>
<clipPath id="cdl"><rect x="81.8" y="632.3" width="1260" height="182.9"/></clipPath>
<g stroke="#262626" stroke-width="2" fill="none" stroke-linecap="butt">
<rect x="83" y="632.8" width="1257" height="181.6"/>
<path d="M150.1 814.4v-13.5M150.1 632.8v13.5M337.2 814.4v-13.5M337.2 632.8v13.5M524.2 814.4v-13.5M524.2 632.8v13.5M711.2 814.4v-13.5M711.2 632.8v13.5M898.3 814.4v-13.5M898.3 632.8v13.5M1085.3 814.4v-13.5M1085.3 632.8v13.5M1272.4 814.4v-13.5M1272.4 632.8v13.5M83 680.8h13.5M1340 680.8h-13.5M83 736h13.5M1340 736h-13.5M83 792h13.5M1340 792h-13.5"/>
</g>
<g clip-path="url(#cd)">
<path d="M247.1 814.4L247.1 744L252.5 740.6L259.1 736.8L265.6 733.3L271.9 731.4L278.3 729.1L284.6 725.9L291.3 724.8L298.6 725.4L305.1 726.6L311.6 728.5L318.1 730.4L324.6 731.9L331.1 733.7L337.5 736.4L344 740.5L350.5 745.8L355.8 747.8L355.8 814.4Z" fill="#cccccc"/>
<path d="M662.6 814.4L662.6 675.5L667.2 672.8L673.7 668.9L680.1 665.6L686.6 662.7L693.2 660.4L699.6 658.5L706 657.5L712.7 656.9L719.5 657.5L726.2 659.2L732.7 660.5L739.1 663.8L745.3 668.7L751.8 674.1L755.9 678L755.9 814.4Z" fill="#cccccc"/>
<path d="M1182.9 814.4L1182.9 745.6L1189.3 740.4L1195.9 735.9L1202.3 733.3L1208.8 732.1L1215.3 730.3L1221.8 728.1L1228.2 725.9L1234.8 724.3L1241 725.4L1247.5 727.1L1254 729.1L1260.5 731L1267 732.9L1273.4 734.8L1279.9 737L1286.4 739.7L1292.9 742.8L1298.7 746.2L1298.7 814.4Z" fill="#cccccc"/>
</g>
<g clip-path="url(#cdl)" fill="none" stroke-linejoin="round">
<path d="M174 820C174.7 819 176.3 816.9 178.3 814C180.3 811.1 183.7 806 186.1 802.8C188.5 799.6 190.4 797.5 193 795C195.6 792.5 199.1 790.8 201.7 788.1C204.3 785.4 206 781.9 208.6 778.6C211.2 775.3 214.6 771.1 217.2 768.2C219.8 765.3 221.5 763.4 224.1 761.3C226.7 759.1 229.9 757.4 232.8 755.3C235.7 753.1 238.8 750.4 241.4 748.4C244 746.4 245.7 744.9 248.3 743.2C250.9 741.5 254.1 739.6 257 738C259.9 736.4 262.4 734.6 265.6 733.3C268.8 732 272.8 731.4 276 730.2C279.2 729 281.7 726.8 284.6 725.9C287.5 725 290.9 724.8 293.2 724.7C295.5 724.6 296.2 725 298.6 725.4C301 725.8 304.4 726.4 307.3 727.1C310.2 727.9 313 729.1 315.9 729.9C318.8 730.7 321.7 731.1 324.6 731.9C327.5 732.7 330.3 733.3 333.2 734.5C336.1 735.7 338.9 737 341.8 738.9C344.7 740.8 347.6 744.1 350.5 745.8C353.4 747.5 356.2 747.5 359.1 749.2C362 750.9 364.9 753.7 367.8 756.1C370.7 758.5 373.5 761.2 376.4 763.9C379.3 766.6 382.1 769.6 385 772.5C387.9 775.4 390.8 778.3 393.7 781.2C396.6 784.1 399.4 787.1 402.3 789.8C405.2 792.5 408.1 795.3 411 797.6C413.9 799.9 416.7 801.9 419.6 803.6C422.5 805.3 424.6 806.3 428.2 808C431.8 809.7 436.9 812 441.2 814C445.5 816 451.9 819 454 820" stroke="#ff0000" stroke-width="5.8"/>
<path d="M485 820C487.4 819.1 495.3 815.9 499.1 814.5C502.9 813.1 504.9 812.8 507.8 811.4C510.7 810 513.8 807.6 516.4 806.2C519 804.8 521 804.8 523.3 802.8C525.6 800.8 527.6 796.7 530.2 794.1C532.8 791.5 536 788.6 538.9 787.2C541.8 785.8 544.9 786.5 547.5 785.5C550.1 784.5 551.8 783.5 554.4 781.2C557 778.9 560.1 774.9 563 771.7C565.9 768.5 569.1 765.1 571.7 762.2C574.3 759.3 576 757.1 578.6 754.4C581.2 751.7 584.4 748.5 587.3 745.8C590.2 743.1 593 740.7 595.9 738C598.8 735.3 601.7 732.3 604.6 729.4C607.5 726.5 610.3 723.7 613.2 720.7C616.1 717.7 618.9 714.4 621.8 711.2C624.7 708 627.6 704.7 630.5 701.7C633.4 698.7 636.2 695.8 639.1 693.1C642 690.4 644.9 687.6 647.8 685.3C650.7 683 653.5 681.1 656.4 679.2C659.3 677.3 662.1 675.8 665 674.1C667.9 672.4 670.8 670.5 673.7 668.9C676.6 667.3 679.4 665.9 682.3 664.6C685.2 663.3 688.1 662.1 691 661.1C693.9 660.1 696.7 659.1 699.6 658.5C702.5 657.9 705.3 657.6 708.2 657.3C711.1 657 714.5 656.6 716.9 656.8C719.3 657 719.5 657.8 722.5 658.5C725.5 659.2 731.1 659.7 734.6 661.1C738.1 662.5 740.3 664.9 743.2 667.1C746.1 669.3 748.9 671.5 751.8 674.1C754.7 676.7 757.6 679.7 760.5 682.7C763.4 685.7 766.2 688.9 769.1 692.2C772 695.5 774.9 698.9 777.8 702.6C780.7 706.4 783.5 710.2 786.4 714.7C789.3 719.2 792.1 724.2 795 729.4C797.9 734.6 800.8 740.5 803.7 745.8C806.6 751.1 809.4 756.4 812.3 761.3C815.2 766.2 818.1 770.2 821 775.1C823.9 780 826.7 785.7 829.6 790.7C832.5 795.8 835.8 801.4 838.2 805.4C840.7 809.4 842.8 812.1 844.3 814.5C845.8 816.9 847 819.1 847.5 820" stroke="#ff0000" stroke-width="5.8"/>
<path d="M1105 820C1105.8 819 1107.8 816.6 1109.9 814C1112 811.4 1114.9 807.7 1117.6 804.5C1120.3 801.3 1123.1 798 1126.3 795C1129.5 792 1133.8 789.1 1136.7 786.4C1139.6 783.7 1141.3 781.3 1143.6 778.6C1145.9 775.9 1147.9 772.9 1150.5 770C1153.1 767.1 1156.2 763.8 1159.1 761.3C1162 758.8 1164.9 757.2 1167.8 755.3C1170.7 753.4 1173.5 752 1176.4 750.1C1179.3 748.2 1182.1 746.2 1185 744C1187.9 741.8 1190.8 738.9 1193.7 737.1C1196.6 735.3 1199.4 734.2 1202.3 733.3C1205.2 732.4 1208.1 732.4 1211 731.6C1213.9 730.9 1216.7 729.8 1219.6 728.8C1222.5 727.8 1225.7 726.6 1228.2 725.9C1230.7 725.1 1232.3 724.3 1234.8 724.3C1237.3 724.3 1240.4 725.2 1243.2 725.9C1246 726.6 1248.9 727.6 1251.8 728.5C1254.7 729.4 1257.6 730.1 1260.5 731C1263.4 731.9 1266.2 732.7 1269.1 733.6C1272 734.5 1274.8 735.2 1277.7 736.2C1280.6 737.2 1283.5 738.4 1286.4 739.7C1289.3 741 1292.1 742.4 1295 744C1297.9 745.6 1300.7 747.5 1303.6 749.2C1306.5 750.9 1309.4 752.4 1312.3 754.4C1315.2 756.4 1318 759 1320.9 761.3C1323.8 763.6 1326.4 766.1 1329.6 768.2C1332.8 770.4 1337.7 772.9 1339.9 774.2C1342.1 775.5 1342.5 775.7 1343 776" stroke="#ff0000" stroke-width="5.8"/>
<path d="M159.5 820C160.3 819 161.5 817.6 164.5 814C167.5 810.4 173.9 803 177.5 798.5C181.1 794 182.7 791.1 186.1 787.2C189.5 783.3 194.3 779.1 198.2 775.2C202.1 771.3 205.4 768.2 209.4 763.9C213.4 759.6 218.2 753.1 222.4 749.2C226.6 745.3 229.9 743.9 234.5 740.6C239.1 737.3 245.4 732.6 250 729.4C254.6 726.2 256.6 723.8 262.1 721.6C267.6 719.4 276.9 717.7 282.9 716.4C288.9 715.1 293 713.3 298.2 713.9C303.4 714.5 307.8 717.4 314.2 719.8C320.6 722.2 331.5 726 336.7 728.5C341.9 731 342.1 732 345.3 734.5C348.5 737 351.4 739.9 355.7 743.2C360 746.5 367.2 751.1 371.2 754.4C375.2 757.7 376.1 759.5 379.8 763C383.6 766.5 388.8 771.2 393.7 775.1C398.6 779 404.2 782.9 409.2 786.4C414.2 789.9 419.4 793.2 423.9 795.9C428.4 798.6 431.8 800.3 436 802.8C440.2 805.2 446 809.2 449 810.6C452 812 451.2 811 454.2 811.4C457.2 811.8 461.8 812.3 467.1 812.8C472.4 813.3 479.7 815.5 486.2 814.5C492.7 813.5 500.7 808.8 506 806.6C511.3 804.4 515.1 802.5 518.1 801.1C521.1 799.8 521.6 800.2 524.2 798.5C526.8 796.8 529.8 793.7 533.7 790.7C537.6 787.7 542.9 783.8 547.5 780.3C552.1 776.8 557.3 773.5 561.3 770C565.3 766.5 567.7 763.6 571.7 759.6C575.7 755.6 581.5 749.6 585.5 745.8C589.5 741.9 592.7 739.5 595.9 736.5C599.1 733.5 601.7 730.8 604.6 727.9C607.5 725 610.3 722.2 613.2 719.2C616.1 716.2 618.9 712.8 621.8 709.7C624.7 706.6 627.6 703.4 630.5 700.5C633.4 697.6 636.2 694.9 639.1 692.5C642 690.1 644.9 687.9 647.8 686C650.7 684.1 653.5 682.6 656.4 681C659.3 679.4 662.1 678 665 676.5C667.9 675 670.8 673.4 673.7 672C676.6 670.6 679.4 669.2 682.3 668C685.2 666.8 688.1 665.7 691 664.8C693.9 663.9 696.1 663.1 699.6 662.5C703.1 661.9 707.6 660.6 711.7 661.1C715.8 661.6 719.5 663.7 724.2 665.4C728.9 667.1 735.1 669.7 739.7 671.5C744.3 673.3 748.3 673.9 751.8 676C755.3 678.1 757.6 681.2 760.5 684C763.4 686.8 766.2 689.8 769.1 693C772 696.2 774.9 699.8 777.8 703.5C780.7 707.2 783.2 711 786.4 715.5C789.6 720 793.6 725.5 796.8 730.2C800 735 801.9 738.8 805.4 744C808.9 749.2 814.6 756.7 817.5 761.3C820.4 765.9 820 767.1 822.7 771.7C825.4 776.3 831 784.1 833.9 789C836.8 793.9 837.7 796.8 840 801C842.3 805.2 845.9 810.8 847.7 814C849.5 817.2 850.5 819 851 820" stroke="#000" stroke-width="2" stroke-dasharray="21.3 12.5"/>
<path d="M1098 820C1098.8 819 1100.3 817.3 1103 814C1105.7 810.7 1110.2 804.8 1114.2 800.2C1118.2 795.6 1122.8 790.9 1127.1 786.4C1131.4 781.9 1134.2 779.2 1140.1 773.4C1146 767.6 1157.4 756.4 1162.6 751.8C1167.8 747.2 1167.2 748.5 1171.2 745.8C1175.2 743.1 1183.3 737.6 1186.8 735.4C1190.2 733.2 1189 734.2 1191.9 732.8C1194.8 731.4 1199.1 728.4 1204 726.8C1208.9 725.2 1215.8 724.2 1221.3 723.3C1226.8 722.4 1231.1 720.9 1237.1 721.6C1243 722.3 1251.7 725.9 1257 727.6C1262.3 729.3 1264.2 729.7 1269.1 731.9C1274 734.1 1281.5 737.9 1286.4 740.6C1291.3 743.3 1293.9 745.3 1298.5 748.3C1303.1 751.3 1309.4 755.5 1314 758.7C1318.6 761.9 1321.8 764.7 1326.1 767.3C1330.4 769.9 1337.1 772.8 1339.9 774.2C1342.7 775.7 1342.5 775.7 1343 776" stroke="#000" stroke-width="2" stroke-dasharray="21.3 12.5"/>
<path d="M618.4 722.4C620.4 719.5 627 710 630.5 705.2C634 700.5 636.2 697.4 639.1 693.9C642 690.4 644.9 687.4 647.8 684.4C650.7 681.4 653.5 678.2 656.4 675.8C659.3 673.3 662.1 671.4 665 669.7C667.9 668 670.8 666.7 673.7 665.4C676.6 664.1 679.4 663 682.3 662C685.2 661 688.1 660.3 691 659.7C693.9 659.1 696.7 658.7 699.6 658.5C702.5 658.3 705.3 658.3 708.2 658.5C711.1 658.7 714.5 659.2 716.9 659.8C719.3 660.4 719.5 660.8 722.5 662C725.5 663.2 731.1 665.4 734.6 667.1C738.1 668.8 740.3 670.4 743.2 672.3C746.1 674.2 748.9 676.4 751.8 678.7C754.7 681 757.6 683.5 760.5 686.2C763.4 688.9 766.2 691.9 769.1 694.8C772 697.7 774.9 700.2 777.8 703.4C780.7 706.6 783.1 709.9 786.4 713.8C789.7 717.7 795.7 724.6 797.6 726.8" stroke="#0000ff" stroke-width="4"/>
<path d="M82.4 784.8H1340" stroke="#8b2a9b" stroke-width="2.2" stroke-dasharray="2.4 6.055"/>
</g>
<path d="M83 660.6H157.7" stroke="#000" stroke-width="2"/>
<text x="169.1" y="671.5" font-size="28.15" fill="#000" stroke="#000">Minor Flood Datum</text>
<text x="1067.2" y="671.9" font-size="28.15" fill="#000" stroke="#000">(d) San Francisco</text>
<text x="272" y="769.3" font-size="28.0" fill="#000" stroke="#000">2.9h</text>
<text x="679.8" y="737" font-size="28.0" fill="#000" stroke="#000">2.5h</text>
<text x="1210.8" y="769.2" font-size="28.0" fill="#000" stroke="#000">3.1h</text>
<text x="76.2" y="692.8" text-anchor="end" font-size="28.0" fill="#262626" stroke="#262626">1</text>
<text x="76.2" y="748" text-anchor="end" font-size="28.0" fill="#262626" stroke="#262626">0.5</text>
<text x="76.2" y="804" text-anchor="end" font-size="28.0" fill="#262626" stroke="#262626">0</text>
<clipPath id="ce"><rect x="83" y="844.4" width="1260" height="181.1"/></clipPath>
<clipPath id="cel"><rect x="81.8" y="843.9" width="1260" height="182.4"/></clipPath>
<g stroke="#262626" stroke-width="2" fill="none" stroke-linecap="butt">
<rect x="83" y="844.4" width="1257" height="181.1"/>
<path d="M150.1 1025.5v-13.5M150.1 844.4v13.5M337.2 1025.5v-13.5M337.2 844.4v13.5M524.2 1025.5v-13.5M524.2 844.4v13.5M711.2 1025.5v-13.5M711.2 844.4v13.5M898.3 1025.5v-13.5M898.3 844.4v13.5M1085.3 1025.5v-13.5M1085.3 844.4v13.5M1272.4 1025.5v-13.5M1272.4 844.4v13.5M83 876.2h13.5M1340 876.2h-13.5M83 944.1h13.5M1340 944.1h-13.5M83 1012.1h13.5M1340 1012.1h-13.5"/>
</g>
<g clip-path="url(#ce)">
<path d="M221.2 1025.5L221.2 906.4L225.8 903.4L232.3 899.6L238.8 896.8L245.2 895.2L251.7 894.9L258.6 895.6L265.1 897.8L271.6 900.8L278 904.1L284.5 907.4L285.1 907.8L285.1 1025.5Z" fill="#cccccc"/>
<path d="M677.8 1025.5L677.8 883.8L684 880.6L690.4 877.8L696.9 876.1L703.5 875.1L710.4 874.7L716.5 875.5L722.8 877.4L729 880.3L735.3 884L741.1 888.1L741.1 1025.5Z" fill="#cccccc"/>
<path d="M1149.1 1025.5L1149.1 914.5L1153.8 911.1L1160.1 907.4L1166.4 905.3L1172.6 904.5L1178.9 903.9L1185.3 904.1L1191.7 905L1198.2 906.5L1204.5 909.3L1210.9 913.4L1216.4 916.6L1216.4 1025.5Z" fill="#cccccc"/>
</g>
<g clip-path="url(#cel)" fill="none" stroke-linejoin="round">
<path d="M134.2 1030.5C134.7 1029.5 135.4 1028.2 137.3 1024.8C139.2 1021.4 143 1015 145.9 1010.1C148.8 1005.2 151.6 1000.3 154.5 995.4C157.4 990.5 160.3 985.7 163.2 980.8C166.1 975.9 168.9 970.9 171.8 966.1C174.7 961.4 177.5 956.8 180.4 952.3C183.3 947.8 186.2 943.3 189.1 939.3C192 935.3 194.8 931.5 197.7 928.1C200.6 924.7 203.5 921.5 206.4 918.6C209.3 915.7 212.1 913.1 215 910.8C217.9 908.5 220.7 906.7 223.6 904.8C226.5 902.9 229.4 901 232.3 899.6C235.2 898.2 238 896.9 240.9 896.1C243.8 895.3 246.6 895 249.5 894.9C252.4 894.8 255.6 895 258.6 895.6C261.6 896.2 264.4 897.5 267.3 898.7C270.2 899.9 273 901.5 275.9 903C278.8 904.5 281.6 905.7 284.5 907.4C287.4 909.1 290.3 911 293.2 913.4C296.1 915.8 298.9 919 301.8 922C304.7 925 307.5 928.3 310.4 931.5C313.3 934.7 316.2 937.8 319.1 941C322 944.2 324.8 947 327.7 950.5C330.6 954 333.5 957.9 336.4 961.8C339.3 965.7 342.1 969.9 345 973.9C347.9 977.9 350.7 981.9 353.6 985.9C356.5 989.9 359.4 994 362.3 998C365.2 1002 367.6 1005.6 370.9 1010.1C374.2 1014.6 379.5 1021.4 382.1 1024.8C384.7 1028.2 385.7 1029.5 386.4 1030.5" stroke="#ff0000" stroke-width="5.8"/>
<path d="M578 1030.5C578.5 1029.5 579.4 1028 581.2 1024.8C583 1021.5 586.3 1015.9 589 1011C591.7 1006.1 594.7 1000.6 597.6 995.4C600.5 990.2 603.4 985.1 606.3 979.9C609.2 974.7 612 969.4 614.9 964.4C617.8 959.4 620.6 954.5 623.5 949.7C626.4 945 629.3 940.4 632.2 935.9C635.1 931.4 637.9 927.1 640.8 922.9C643.7 918.7 646.5 914.5 649.4 910.8C652.3 907.1 655.2 903.7 658.1 900.5C661 897.3 663.8 894.3 666.7 891.8C669.6 889.3 672.5 887.2 675.4 885.3C678.3 883.4 681.1 882 684 880.6C686.9 879.2 689.7 878 692.6 877.1C695.5 876.2 698.3 875.8 701.3 875.4C704.3 875 707.2 874.5 710.4 874.7C713.6 874.9 717.2 875.5 720.7 876.6C724.2 877.7 727.6 879.5 731.1 881.5C734.6 883.5 738 885.7 741.5 888.4C745 891.1 748.3 894.6 751.8 897.9C755.2 901.2 758.7 904.5 762.2 908.2C765.7 911.9 769.2 916.1 772.6 920.3C776 924.5 779.5 928.8 782.9 933.3C786.3 937.8 789.8 942.4 793.3 947.1C796.8 951.9 800.2 956.6 803.7 961.8C807.2 967 810.5 972.9 814 978.2C817.5 983.5 820.9 988.5 824.4 993.8C827.9 999.1 831.5 1005 834.8 1010.2C838.1 1015.4 842.1 1021.5 844.3 1024.9C846.5 1028.3 847.3 1029.6 847.9 1030.5" stroke="#ff0000" stroke-width="5.8"/>
<path d="M1068.2 1030.5C1068.7 1029.5 1069.6 1028 1071.4 1024.8C1073.2 1021.5 1076.5 1015.9 1079.2 1011C1081.9 1006.1 1084.9 1000.3 1087.8 995.4C1090.7 990.5 1093.6 986.5 1096.5 981.6C1099.4 976.7 1102.2 971 1105.1 966.1C1108 961.2 1111.1 956 1113.7 952.3C1116.3 948.5 1117.7 947.1 1120.6 943.6C1123.5 940.1 1127.5 935.2 1131 931.5C1134.5 927.8 1138 924.4 1141.4 921.2C1144.9 918 1148.2 915 1151.7 912.5C1155.2 910 1158.9 907.8 1162.1 906.5C1165.3 905.2 1167.5 905.2 1170.7 904.8C1173.9 904.4 1177.3 903.8 1181.1 903.9C1184.9 904 1190.1 904.6 1193.6 905.3C1197.1 906 1199.4 906.9 1202.3 908.2C1205.2 909.6 1208 911.7 1210.9 913.4C1213.8 915.1 1216.6 916.6 1219.5 918.6C1222.4 920.6 1225.3 922.9 1228.2 925.5C1231.1 928.1 1233.9 931.4 1236.8 934.1C1239.7 936.8 1242.5 939.2 1245.4 941.9C1248.3 944.6 1251.2 947.3 1254.1 950.5C1257 953.7 1259.8 957.1 1262.7 960.9C1265.6 964.6 1268.5 969.4 1271.4 973C1274.3 976.6 1277.1 979.3 1280 982.5C1282.9 985.7 1285.7 988.4 1288.6 992C1291.5 995.6 1294.4 999.8 1297.3 1004.1C1300.2 1008.4 1303.5 1014.3 1305.9 1017.9C1308.3 1021.5 1310.3 1023.6 1311.9 1025.7C1313.5 1027.8 1314.9 1029.7 1315.5 1030.5" stroke="#ff0000" stroke-width="5.8"/>
<path d="M125.5 1030.5C126.1 1029.6 125.8 1030.7 128.9 1025.2C132.1 1019.8 138.6 1007.5 144.4 997.8C150.2 988.1 157.2 977.1 163.5 966.8C169.8 956.5 176.6 944.5 182.5 935.8C188.4 927 193.2 920.9 199.2 914.3C205.2 907.7 211.9 900.8 218.3 896.4C224.7 892 231.2 890 237.4 887.6C243.6 885.2 251.5 883 255.5 882.1C259.5 881.2 257.2 880.7 261.2 882.3C265.2 883.9 272.9 888.2 279.4 891.8C285.9 895.4 295.5 900.7 300.1 903.9C304.7 907.1 303.8 907.3 307 910.8C310.2 914.2 315.7 920.6 319.1 924.6C322.6 928.6 324.8 931.2 327.7 935C330.6 938.8 332.9 942.2 336.4 947.1C339.8 952 344.4 958.4 348.4 964.4C352.4 970.4 356.8 977.6 360.5 983.4C364.2 989.1 366.9 992.7 370.9 998.9C374.9 1005.1 381.3 1015.2 384.7 1020.5C388.1 1025.8 389.9 1028.8 391 1030.5" stroke="#000" stroke-width="2" stroke-dasharray="21.3 12.5"/>
<path d="M571.9 1030.5C572.5 1029.5 573.2 1028.3 575.2 1024.8C577.2 1021.3 580.9 1014.3 583.8 1009.3C586.7 1004.3 589 1000.4 592.5 994.6C596 988.8 600.5 981.5 604.5 974.7C608.5 967.9 612.9 960.2 616.6 954C620.4 947.8 623.2 943.5 627 937.6C630.8 931.7 635.6 923.6 639.1 918.6C642.6 913.6 644.2 911.6 647.7 907.4C651.2 903.2 655.5 898.6 659.8 893.5C664.1 888.4 668.4 880.6 673.6 876.6C678.8 872.6 684.5 872.1 690.9 869.4C697.3 866.7 706.3 861 712.1 860.4C717.9 859.8 720.4 863.7 725.9 865.9C731.4 868.1 740 871 744.9 873.7C749.8 876.4 751.3 878.4 755.3 882.3C759.3 886.2 765.4 892.5 769.1 897C772.8 901.5 774.2 904.8 777.7 909.1C781.2 913.4 786.6 918.6 789.8 922.9C793 927.2 793.6 929.8 796.8 935C800 940.2 805.8 949.1 808.8 954C811.8 958.9 811.7 959.2 814.9 964.4C818.1 969.6 824.9 980.2 827.9 985.1C830.9 990 830.4 989.5 833 993.8C835.6 998.1 840.5 1005.8 843.4 1011C846.3 1016.2 848.6 1021.7 850.3 1024.9C852 1028.2 853 1029.6 853.5 1030.5" stroke="#000" stroke-width="2" stroke-dasharray="21.3 12.5"/>
<path d="M1058.6 1030.5C1059.1 1029.5 1059.3 1029.2 1061.9 1024.8C1064.5 1020.4 1070.5 1009.9 1074 1004.1C1077.5 998.4 1078.8 996.2 1082.6 990.3C1086.3 984.4 1092.5 975 1096.5 968.7C1100.5 962.4 1103.6 957.2 1106.8 952.3C1110 947.4 1112.6 943.3 1115.5 939.3C1118.4 935.3 1120.4 932 1124.1 928.1C1127.8 924.2 1133 920.3 1137.9 916C1142.8 911.7 1148.9 905.7 1153.4 902.2C1157.9 898.8 1159.5 897 1164.7 895.3C1169.9 893.6 1179.4 892.7 1184.5 891.8C1189.6 890.9 1190.4 888.7 1195.4 890.1C1200.4 891.5 1207.8 896.4 1214.4 900.4C1221 904.4 1230.5 910.7 1235.1 914.3C1239.7 917.9 1239.4 918.8 1242 922C1244.6 925.2 1247.1 929.1 1250.6 933.3C1254 937.5 1259 942.6 1262.7 947.1C1266.5 951.6 1269.6 955.4 1273.1 960C1276.5 964.6 1280.2 970.2 1283.4 974.7C1286.6 979.2 1288.9 982.2 1292.1 986.8C1295.3 991.4 1299.2 997.4 1302.4 1002.3C1305.6 1007.2 1308.6 1012.5 1311.1 1016.2C1313.5 1020 1315.5 1022.4 1317.1 1024.8C1318.7 1027.2 1320.3 1029.5 1320.9 1030.5" stroke="#000" stroke-width="2" stroke-dasharray="21.3 12.5"/>
<path d="M602 988.5C602.7 987.2 604.1 984.4 606.3 980.5C608.4 976.6 612 970 614.9 965C617.8 960 620.6 955 623.5 950.3C626.4 945.5 629.3 941 632.2 936.5C635.1 932 637.9 927.7 640.8 923.5C643.7 919.3 646.5 915.1 649.4 911.4C652.3 907.7 655.2 904.3 658.1 901.1C661 897.9 663.8 894.9 666.7 892.4C669.6 889.9 672.5 887.8 675.4 885.9C678.3 884 681.1 882.6 684 881.2C686.9 879.8 689.7 878.6 692.6 877.7C695.5 876.8 698.3 876.4 701.3 876C704.3 875.6 707.2 875.2 710.4 875.4C713.6 875.6 717.2 876 720.7 877C724.2 878 727.6 879.4 731.1 881.2C734.6 883 738 885 741.5 887.6C745 890.2 748.3 893.6 751.8 896.8C755.2 900 758.7 903.3 762.2 907C765.7 910.7 769.2 914.8 772.6 919C776 923.2 779.5 927.8 782.9 932.3C786.3 936.8 789.8 941.4 793.3 946.2C796.8 951 800.2 955.7 803.7 960.9C807.2 966.1 811.4 973.3 814 977.6C816.6 981.9 818.3 985.4 819.2 986.9" stroke="#0000ff" stroke-width="4"/>
<path d="M82.4 1001.6H1340" stroke="#8b2a9b" stroke-width="2.2" stroke-dasharray="2.4 6.055"/>
</g>
<path d="M83 861H157.7" stroke="#000" stroke-width="2"/>
<text x="169.1" y="872.6" font-size="28.15" fill="#000" stroke="#000">Minor Flood Datum</text>
<text x="1067.2" y="873" font-size="28.15" fill="#000" stroke="#000">(e) Boston</text>
<text x="224.1" y="964.4" font-size="28.0" fill="#000" stroke="#000">1.7h</text>
<text x="680.5" y="954.9" font-size="28.0" fill="#000" stroke="#000">1.7h</text>
<text x="1154" y="969.1" font-size="28.0" fill="#000" stroke="#000">1.8h</text>
<text x="861.1" y="991.8" font-size="28.15" fill="#8b2a9b" stroke="#8b2a9b">MSL 10/2024</text>
<text x="76.2" y="888.2" text-anchor="end" font-size="28.0" fill="#262626" stroke="#262626">2</text>
<text x="76.2" y="956.1" text-anchor="end" font-size="28.0" fill="#262626" stroke="#262626">1</text>
<text x="76.2" y="1024.1" text-anchor="end" font-size="28.0" fill="#262626" stroke="#262626">0</text>
<text transform="translate(50.3 936.2) rotate(-90)" text-anchor="middle" font-size="30.8" fill="#262626" stroke="#262626">m</text>
<text x="149.6" y="1060.9" text-anchor="middle" font-size="28.0" fill="#262626" stroke="#262626">-15</text>
<text x="336.7" y="1060.9" text-anchor="middle" font-size="28.0" fill="#262626" stroke="#262626">-10</text>
<text x="523.7" y="1060.9" text-anchor="middle" font-size="28.0" fill="#262626" stroke="#262626">-5</text>
<text x="710.8" y="1060.9" text-anchor="middle" font-size="28.0" fill="#262626" stroke="#262626">0</text>
<text x="897.8" y="1060.9" text-anchor="middle" font-size="28.0" fill="#262626" stroke="#262626">5</text>
<text x="1084.8" y="1060.9" text-anchor="middle" font-size="28.0" fill="#262626" stroke="#262626">10</text>
<text x="1271.9" y="1060.9" text-anchor="middle" font-size="28.0" fill="#262626" stroke="#262626">15</text>
<text x="711.2" y="1099.2" text-anchor="middle" font-size="30.8" letter-spacing="0.4" fill="#262626" stroke="#262626">hours</text>
<path d="M394.8 27.3H501.3" stroke="#ff0000" stroke-width="5.8"/>
<text x="509.2" y="37.7" font-size="25.2" fill="#000" stroke="#000">Measured</text>
<path d="M644 27.3H750" stroke="#000" stroke-width="2" stroke-dasharray="21.3 12.5"/>
<text x="757.8" y="37.7" font-size="25.2" fill="#000" stroke="#000">Predicted</text>
<path d="M885.8 27.6H992.1" stroke="#0000ff" stroke-width="4"/>
<text x="1000.6" y="37.7" font-size="25.2" fill="#000" stroke="#000">Fit</text>
</svg>
</body></html>
